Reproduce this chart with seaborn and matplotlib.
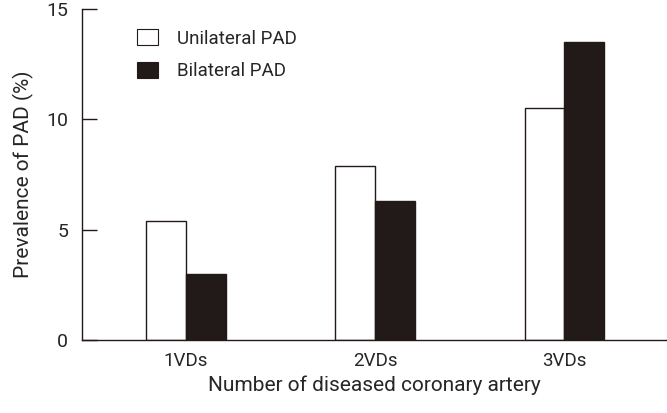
"""
Prevalence of PAD by number of diseased coronary arteries.
"""

import matplotlib.pyplot as plt
import pandas as pd
import seaborn as sns

CATEGORIES = ["1VDs", "2VDs", "3VDs"]
UNILATERAL = [5.4, 7.9, 10.5]
BILATERAL = [3.0, 6.3, 13.5]
SERIES = ["Unilateral PAD", "Bilateral PAD"]
Y_TICKS = [0, 5, 10, 15]


def main() -> None:
    sns.set_theme(style="ticks")
    plt.rcParams["font.family"] = ["Liberation Sans Narrow", "Roboto", "DejaVu Sans"]

    df = pd.DataFrame({
        "group": CATEGORIES * 2,
        "value": UNILATERAL + BILATERAL,
        "series": [SERIES[0]] * 3 + [SERIES[1]] * 3,
    })

    fig = plt.figure(figsize=(6.67, 4.13), dpi=100)
    ax = fig.add_axes([0.123, 0.177, 0.876, 0.801])
    sns.barplot(
        data=df, x="group", y="value", hue="series",
        palette=["white", "#231916"], width=0.42, gap=0,
        edgecolor="#231916", linewidth=1.0, ax=ax,
    )

    ax.set_xlim(-0.55, 2.54)
    ax.set_ylim(0, 15)
    ax.set_yticks(Y_TICKS)
    ax.tick_params(axis="y", direction="in", length=11, width=1, labelsize=14,
                   color="#231916", pad=10)
    ax.tick_params(axis="x", length=0, labelsize=13.5, pad=9)
    for side in ["top", "right"]:
        ax.spines[side].set_visible(False)
    for side in ["left", "bottom"]:
        ax.spines[side].set_color("#231916")
        ax.spines[side].set_linewidth(1.0)

    ax.set_xlabel("Number of diseased coronary artery", fontsize=15, labelpad=4)
    ax.set_ylabel("Prevalence of PAD (%)", fontsize=15, labelpad=9)

    leg = ax.legend(loc="upper left", bbox_to_anchor=(0.065, 0.99), frameon=False,
                    fontsize=13.5, handlelength=1.15, handleheight=0.95,
                    labelspacing=0.75, handletextpad=1.0)
    for h in leg.get_patches():
        h.set_edgecolor("#231916")
        h.set_linewidth(0.8)

    fig.savefig("out.png", dpi=100)
    plt.close(fig)


if __name__ == "__main__":
    main()
